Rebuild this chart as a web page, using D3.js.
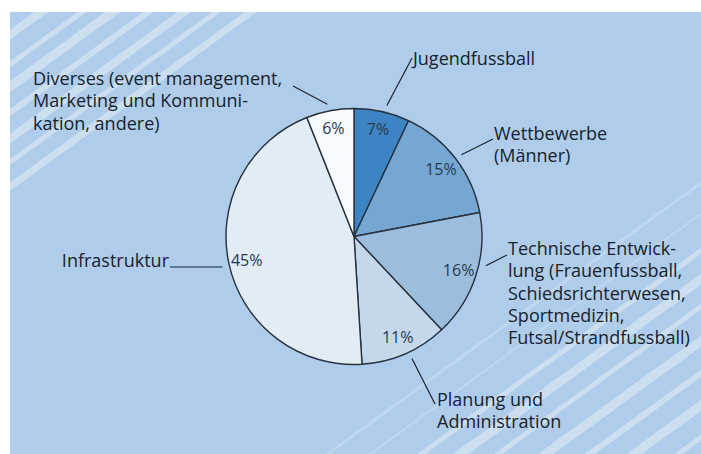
<!DOCTYPE html>
<html>
<head>
<meta charset="utf-8">
<script src="https://cdn.jsdelivr.net/npm/d3@7"></script>
<style>
  body { margin: 0; background: #fff; }
  svg text { font-family: "Open Sans", "Noto Sans", sans-serif; }
</style>
</head>
<body>
<div id="chart"></div>
<script>
const width = 701;
const height = 454;

// Daten
const categories = [
    "Jugendfussball",
    "Wettbewerbe (Männer)",
    "Technische Entwicklung",
    "Planung und Administration",
    "Infrastruktur",
    "Diverses"
];
const shares = [7, 15, 16, 11, 45, 6];
const labelLines = [
    ["Jugendfussball"],
    ["Wettbewerbe", "(Männer)"],
    ["Technische Entwick-", "lung (Frauenfussball,", "Schiedsrichterwesen,", "Sportmedizin,", "Futsal/Strandfussball)"],
    ["Planung und", "Administration"],
    ["Infrastruktur"],
    ["Diverses (event management,", "Marketing und Kommuni-", "kation, andere)"]
];

// Farben der Segmente (dunkel -> hell)
const sliceColors = ["#3c84c3", "#76a7d2", "#9dbddc", "#c5d8eb", "#e2ecf5", "#f6fafd"];

// Layout der Beschriftungen (Textanker + Ende der Hinweislinie)
const callouts = [
    { x: 413, y: 65,  anchor: "start", end: [412, 58],  nudge: 1.5 },
    { x: 494, y: 140, anchor: "start", end: [493, 139], nudge: 0.5 },
    { x: 508, y: 255, anchor: "start", end: [507, 255], nudge: -5.5 },
    { x: 437, y: 406, anchor: "start", end: [435, 404], nudge: -2 },
    { x: 169, y: 267, anchor: "end",   end: [170, 267], nudge: -0.6 },
    { x: 33,  y: 85,  anchor: "start", end: [293, 86],  nudge: -0.6 }
];

// Hintergrundstreifen (Abstand senkrecht zur Streifenrichtung, Breite)
const stripes = [
    [34, 8], [58, 5], [76, 9], [97, 6], [118, 8], [137, 5], [157, 7],
    [560, 3], [585, 2],
    [615, 5], [638, 9], [660, 5], [688, 9], [714, 6], [740, 9], [766, 5]
];

const svg = d3.select("#chart")
    .append("svg")
    .attr("width", width)
    .attr("height", height);

const panel = { x: 10, y: 12, w: width - 10, h: height - 12 };

svg.append("defs").append("clipPath")
    .attr("id", "panel-clip")
    .append("rect")
    .attr("x", panel.x).attr("y", panel.y)
    .attr("width", panel.w).attr("height", panel.h);

svg.append("rect")
    .attr("x", panel.x).attr("y", panel.y)
    .attr("width", panel.w).attr("height", panel.h)
    .attr("fill", "#afcdea");

// diagonale Streifen
const theta = 36 * Math.PI / 180;
const s = Math.sin(theta), c = Math.cos(theta);
svg.append("g")
    .attr("clip-path", "url(#panel-clip)")
    .selectAll("line")
    .data(stripes)
    .join("line")
    .attr("x1", d => d[0] * s - 800 * c)
    .attr("y1", d => d[0] * c + 800 * s)
    .attr("x2", d => d[0] * s + 800 * c)
    .attr("y2", d => d[0] * c - 800 * s)
    .attr("stroke", "#ffffff")
    .attr("stroke-opacity", d => d[0] > 500 && d[0] < 600 ? 0.2 : 0.36)
    .attr("stroke-width", d => d[1]);

// Kreisdiagramm
const cx = 354, cy = 236.5, radius = 128;

const pie = d3.pie().sort(null).value(d => d.value);
const arcs = pie(categories.map((name, i) => ({ name, value: shares[i], i })));

const arc = d3.arc().innerRadius(0).outerRadius(radius);
const labelArc = d3.arc().innerRadius(110).outerRadius(110);

const g = svg.append("g").attr("transform", `translate(${cx},${cy})`);

g.selectAll("path")
    .data(arcs)
    .join("path")
    .attr("d", arc)
    .attr("fill", d => sliceColors[d.data.i])
    .attr("stroke", "#26323f")
    .attr("stroke-width", 1.4)
    .attr("stroke-linejoin", "round");

g.selectAll("text.pct")
    .data(arcs)
    .join("text")
    .attr("class", "pct")
    .attr("transform", d => `translate(${labelArc.centroid(d)})`)
    .attr("text-anchor", "middle")
    .attr("dy", "0.36em")
    .attr("font-size", 16)
    .attr("fill", "#253a50")
    .text(d => d.value + "%");

// Hinweislinien
const leader = svg.append("g")
    .attr("stroke", "#1a2530")
    .attr("stroke-width", 1.2)
    .attr("fill", "none");

arcs.forEach((d, i) => {
    const co = callouts[i];
    const a = (d.startAngle + d.endAngle) / 2 + co.nudge * Math.PI / 180;
    const r0 = radius + 7;
    const x0 = cx + r0 * Math.sin(a);
    const y0 = cy - r0 * Math.cos(a);
    leader.append("line")
        .attr("x1", x0).attr("y1", i === 4 ? co.end[1] : y0)
        .attr("x2", co.end[0]).attr("y2", co.end[1]);
});

// Beschriftungen, eine Textzeile je Element
const labels = svg.append("g")
    .attr("font-size", 18)
    .attr("fill", "#17222d");

labelLines.forEach((lines, i) => {
    const co = callouts[i];
    labels.selectAll(null)
        .data(lines)
        .join("text")
        .attr("x", co.x)
        .attr("y", (line, j) => co.y + j * 22.3)
        .attr("text-anchor", co.anchor)
        .text(line => line);
});
</script>
</body>
</html>
